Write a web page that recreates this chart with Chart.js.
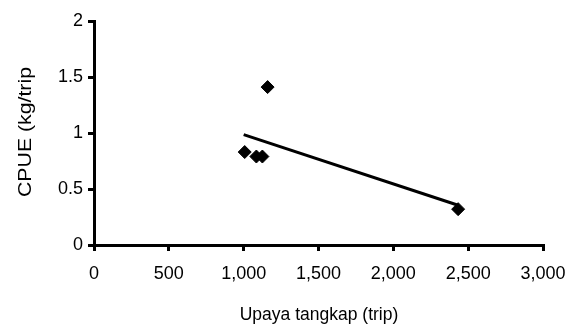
<!DOCTYPE html>
<html lang="id">
<head>
  <meta charset="UTF-8" />
  <title>CPUE vs Upaya tangkap</title>
  <script src="https://cdn.jsdelivr.net/npm/chart.js"></script>
  <style>
    html, body { margin: 0; padding: 0; background: #fff; }
    #wrap { width: 579px; height: 329px; }
  </style>
</head>
<body>
  <div id="wrap"><canvas id="cpueChart" width="579" height="329"></canvas></div>

  <script>
    // data
    const effort = [1007, 1085, 1125, 1160, 2433];
    const cpue = [0.83, 0.79, 0.79, 1.41, 0.32];
    const trendEffort = [1000, 2433];
    const trendCpue = [0.985, 0.355];
    const xTicks = [0, 500, 1000, 1500, 2000, 2500, 3000];
    const yTicks = [0, 0.5, 1, 1.5, 2];

    const FONT = 'Liberation Sans, Arial, sans-serif';

    // judul sumbu digambar sendiri (judul Y terpotong di atas seperti aslinya)
    const axisTitles = {
      id: 'axisTitles',
      afterDraw(chart) {
        const ctx = chart.ctx;
        ctx.save();
        ctx.fillStyle = '#000';
        ctx.font = '17.5px ' + FONT;
        ctx.textAlign = 'center';
        ctx.textBaseline = 'middle';
        ctx.fillText('Upaya tangkap (trip)', 319, 315);
        ctx.restore();

        ctx.save();
        ctx.beginPath();
        ctx.rect(0, 67, 60, 300);
        ctx.clip();
        ctx.font = '18px ' + FONT;
        const w = ctx.measureText('CPUE (kg/trip').width;
        ctx.translate(26, 197);
        ctx.rotate(-Math.PI / 2);
        ctx.scale(130 / w, 1);
        ctx.fillStyle = '#000';
        ctx.textAlign = 'left';
        ctx.textBaseline = 'middle';
        ctx.fillText('CPUE (kg/trip)', 0, 0);
        ctx.restore();
      }
    };

    new Chart(document.getElementById('cpueChart'), {
      type: 'scatter',
      data: {
        datasets: [
          {
            label: 'CPUE',
            data: effort.map((x, i) => ({ x: x, y: cpue[i] })),
            pointStyle: 'rectRot',
            pointRadius: 6.5,
            pointBackgroundColor: '#000',
            pointBorderColor: '#000',
            pointBorderWidth: 1,
            showLine: false
          },
          {
            label: 'Trend',
            data: trendEffort.map((x, i) => ({ x: x, y: trendCpue[i] })),
            showLine: true,
            borderColor: '#000',
            borderWidth: 3,
            pointRadius: 0
          }
        ]
      },
      options: {
        responsive: false,
        animation: false,
        layout: { padding: { left: 0, right: 36, top: 21, bottom: 0 } },
        plugins: { legend: { display: false }, tooltip: { enabled: false } },
        scales: {
          x: {
            type: 'linear',
            min: 0,
            max: 3000,
            afterBuildTicks: (s) => { s.ticks = xTicks.map(v => ({ value: v })); },
            afterFit: (s) => { s.height = 84; },
            ticks: {
              color: '#000',
              font: { size: 18, family: FONT },
              padding: 12,
              maxRotation: 0,
              callback: (v) => v.toLocaleString('en-US')
            },
            grid: { drawOnChartArea: false, drawTicks: true, tickLength: 6, color: '#000', lineWidth: 3 },
            border: { color: '#000', width: 3 }
          },
          y: {
            type: 'linear',
            min: 0,
            max: 2,
            afterBuildTicks: (s) => { s.ticks = yTicks.map(v => ({ value: v })); },
            afterFit: (s) => { s.width = 94; },
            ticks: {
              color: '#000',
              font: { size: 18, family: FONT },
              padding: 5,
              callback: (v) => String(v)
            },
            grid: { drawOnChartArea: false, drawTicks: true, tickLength: 6, color: '#000', lineWidth: 3 },
            border: { color: '#000', width: 3 }
          }
        }
      },
      plugins: [axisTitles]
    });
  </script>
</body>
</html>
